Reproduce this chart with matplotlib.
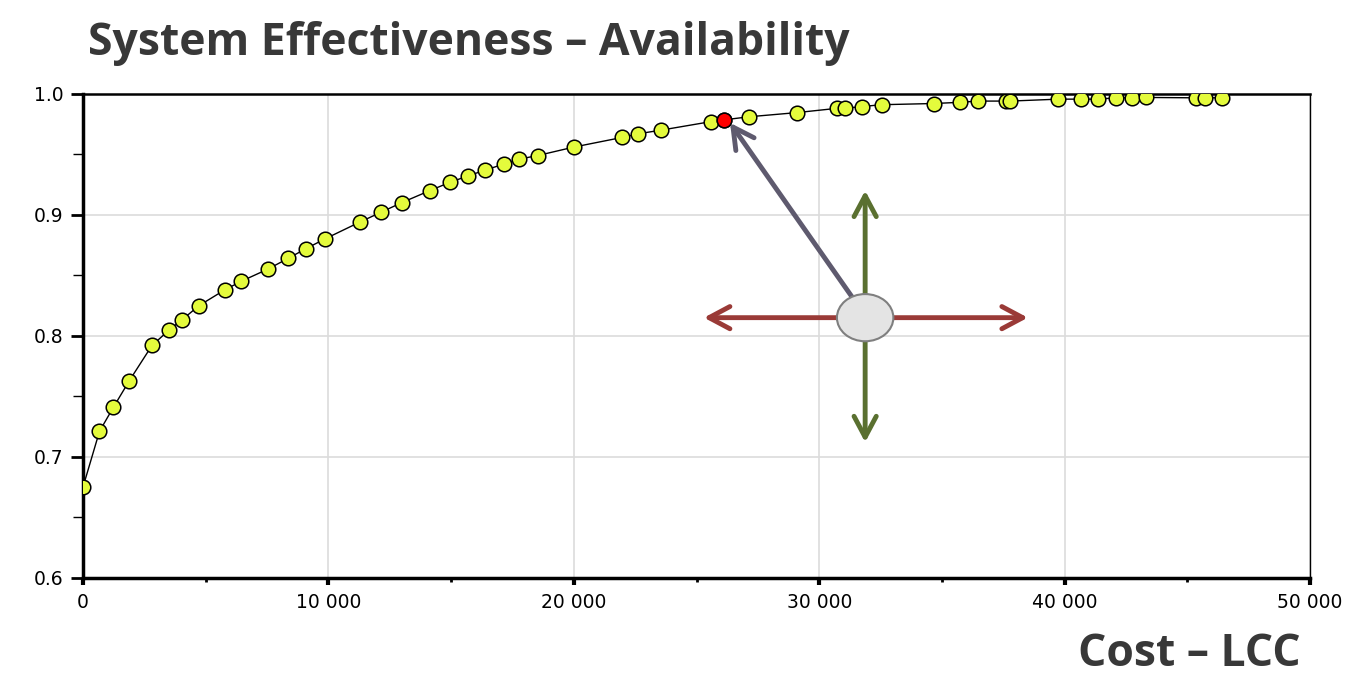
import matplotlib.pyplot as plt
from matplotlib.patches import Ellipse
from matplotlib.ticker import FuncFormatter, MultipleLocator
import numpy as np

# 数据：成本与可用度
cost = [0, 670, 1240, 1890, 2810, 3520, 4020, 4730, 5780, 6440,
        7520, 8360, 9080, 9850, 11280, 12130, 12980, 14130, 14970, 15670,
        16390, 17160, 17760, 18530, 20000, 21980, 22630, 23560, 25580, 26130,
        27120, 29100, 30720, 31040, 31750, 32540, 34680, 35750, 36460, 37610,
        37770, 39740, 40650, 41370, 42080, 42750, 43300, 45360, 45720, 46430]
availability = [0.675, 0.721, 0.741, 0.763, 0.792, 0.805, 0.813, 0.825, 0.838, 0.845,
                0.855, 0.864, 0.872, 0.880, 0.894, 0.902, 0.910, 0.920, 0.927, 0.932,
                0.937, 0.942, 0.946, 0.949, 0.956, 0.964, 0.967, 0.970, 0.977, 0.9785,
                0.981, 0.9845, 0.988, 0.988, 0.9895, 0.991, 0.992, 0.993, 0.994, 0.994,
                0.994, 0.9956, 0.9956, 0.9956, 0.9967, 0.9967, 0.997, 0.9967, 0.9967, 0.9967]
chosen = 29  # 红色的最优点

# 标注位置（数据坐标）
knob = (31870, 0.815)
knob_size = (2300, 0.039)
h_arrow = (25300, 38500)
v_arrow = (0.920, 0.712)
pointer_start = (31340, 0.832)
pointer_end = (26365, 0.976)

fig = plt.figure(figsize=(13.52, 6.75), dpi=100)
ax = fig.add_axes([0.0614, 0.144, 0.9076, 0.717])

ax.plot(cost, availability, color='black', lw=1.0, marker='o', ms=10.5,
        mfc='#e4fb3c', mec='black', mew=1.1, zorder=3)
ax.plot(cost[chosen], availability[chosen], marker='o', ms=10.5,
        mfc='#ff0000', mec='black', mew=1.1, zorder=4)

ax.set_xlim(0, 50000)
ax.set_ylim(0.6, 1.0)
ax.xaxis.set_major_locator(MultipleLocator(10000))
ax.xaxis.set_minor_locator(MultipleLocator(5000))
ax.yaxis.set_major_locator(MultipleLocator(0.1))
ax.yaxis.set_minor_locator(MultipleLocator(0.05))
ax.xaxis.set_major_formatter(FuncFormatter(lambda v, p: "{:,}".format(int(v)).replace(',', ' ')))
ax.yaxis.set_major_formatter(FuncFormatter(lambda v, p: "{:.1f}".format(v)))
ax.grid(True, which='major', color='#dcdcdc', lw=1.2, zorder=0)
ax.set_axisbelow(True)

ax.tick_params(axis='both', which='major', labelsize=13.5, colors='black')
ax.tick_params(axis='y', which='major', length=9, width=2, pad=5)
ax.tick_params(axis='y', which='minor', length=7, width=1)
ax.tick_params(axis='x', which='major', length=5, width=3, pad=6)
ax.tick_params(axis='x', which='minor', length=3, width=2)
for lab in ax.get_xticklabels() + ax.get_yticklabels():
    lab.set_fontfamily('DejaVu Sans')

ax.spines['left'].set_linewidth(2.5)
ax.spines['bottom'].set_linewidth(2.5)
ax.spines['top'].set_linewidth(1.8)
ax.spines['right'].set_linewidth(1.0)

# 旋钮和箭头
red = '#9a3a37'
green = '#5a7030'
style2 = '<->,head_length=1.5,head_width=0.8'
ax.annotate('', xy=(h_arrow[0], knob[1]), xytext=(h_arrow[1], knob[1]),
            arrowprops=dict(arrowstyle=style2, color=red, lw=3.5, capstyle='round',
                            joinstyle='round', shrinkA=0, shrinkB=0),
            zorder=5)
ax.annotate('', xy=(knob[0], v_arrow[0]), xytext=(knob[0], v_arrow[1]),
            arrowprops=dict(arrowstyle=style2, color=green, lw=3.5, capstyle='round',
                            joinstyle='round', shrinkA=0, shrinkB=0),
            zorder=5)
ax.annotate('', xy=pointer_end, xytext=pointer_start,
            arrowprops=dict(arrowstyle='->,head_length=1.5,head_width=0.8',
                            color='#5e5a6e', lw=3.5, capstyle='round', joinstyle='round',
                            shrinkA=0, shrinkB=0),
            zorder=5)
ax.add_patch(Ellipse(knob, knob_size[0], knob_size[1], facecolor='#e4e4e4',
                     edgecolor='#7f7f7f', lw=1.5, zorder=6))

fig.text(0.065, 0.9185, 'System Effectiveness \u2013 Availability', fontsize=32,
         fontweight='bold', family='Open Sans', color='#383838')
fig.text(0.962, 0.014, 'Cost \u2013 LCC', fontsize=32, fontweight='bold',
         family='Open Sans', color='#383838', ha='right')

plt.savefig('out.png', dpi=100)
